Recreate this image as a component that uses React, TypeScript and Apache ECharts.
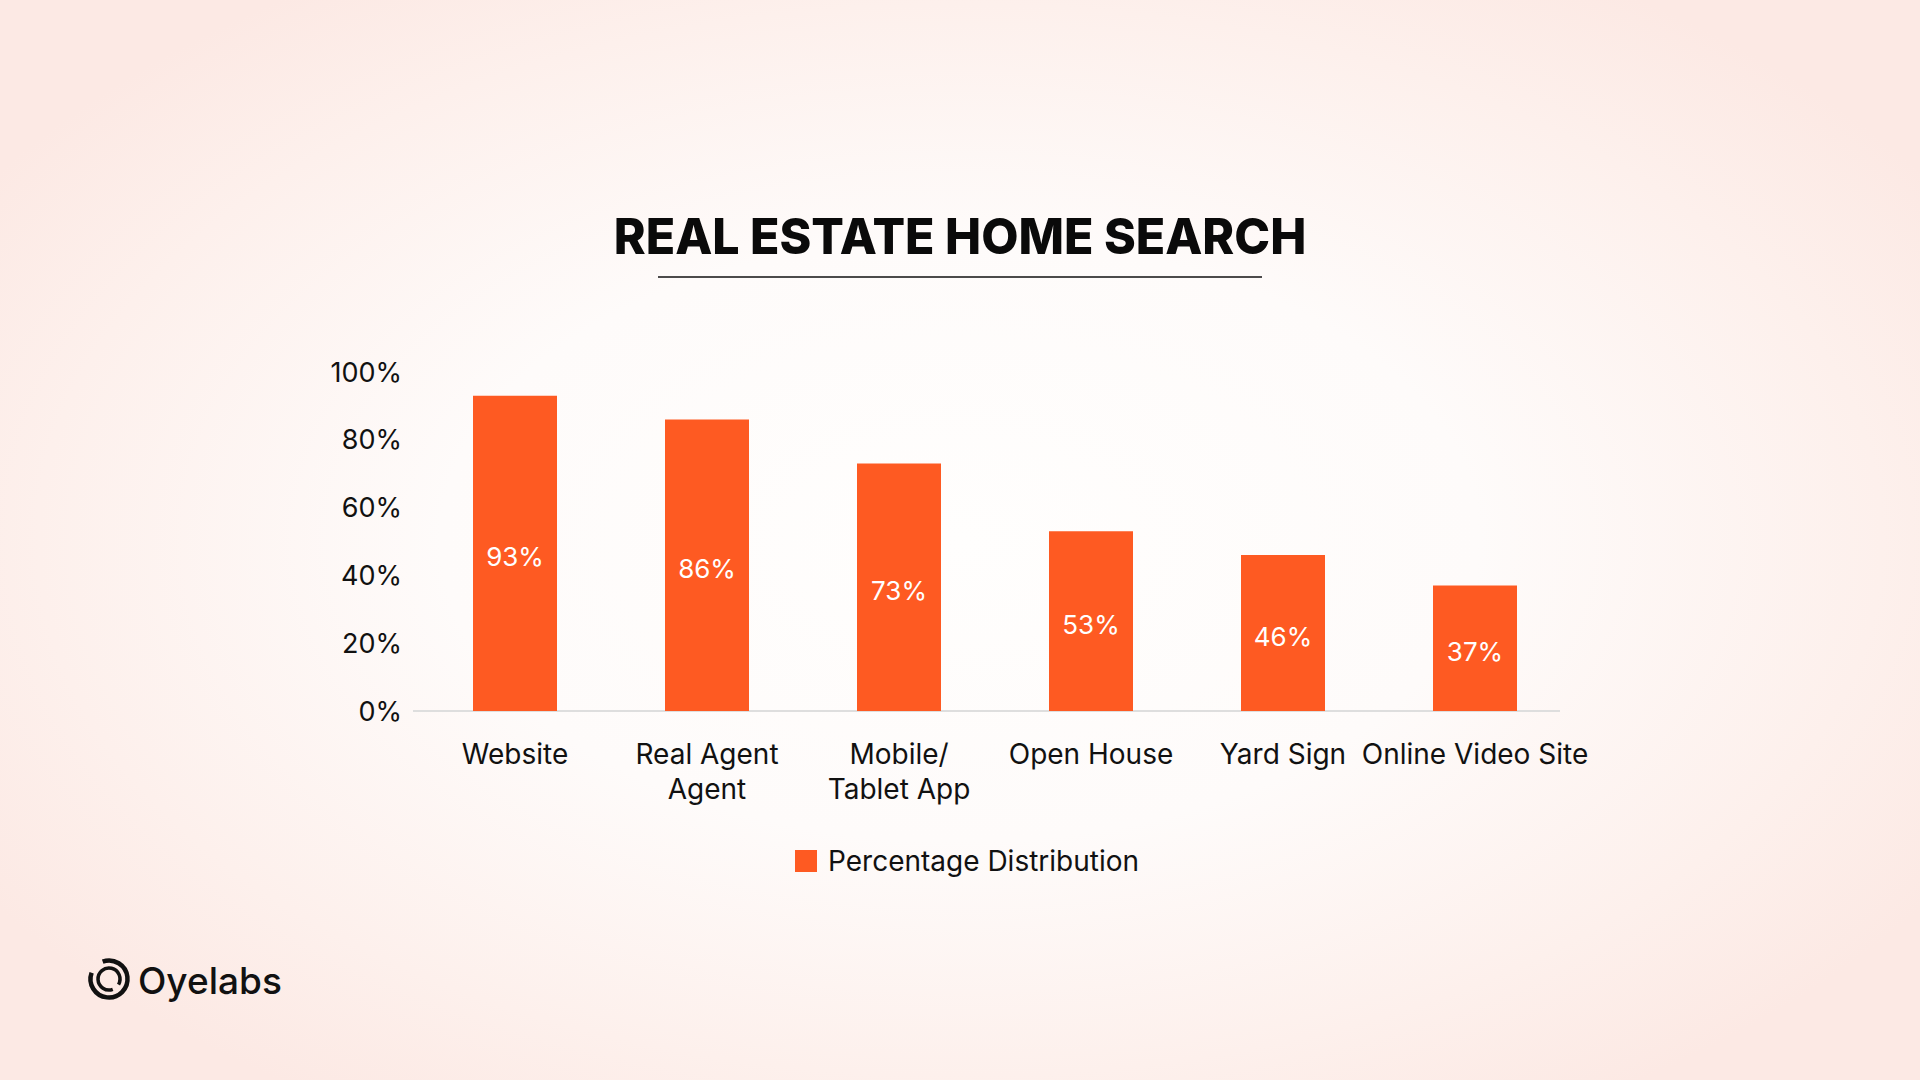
import { useEffect, useRef } from "react";
import * as echarts from "echarts";

const categories = ["Website", "Real Agent\nAgent", "Mobile/\nTablet App", "Open House", "Yard Sign", "Online Video Site"];
const values = [93, 86, 73, 53, 46, 37];
const seriesName = "Percentage Distribution";
const yMin = 0;
const yMax = 100;
const yStep = 20;
const titleText = "REAL ESTATE HOME SEARCH";
const brandText = "Oyelabs";

const FONT = "Inter, 'Noto Sans', 'DejaVu Sans', sans-serif";
const ORANGE = "#FE5A22";
const INK = "#111111";

export default function App() {
  const ref = useRef<HTMLDivElement>(null);
  useEffect(() => {
    document.body.style.margin = "0";
    const chart = echarts.init(ref.current!, null, { renderer: "svg" });
    const d2r = Math.PI / 180;
    chart.setOption({
      animation: false,
      backgroundColor: "transparent",
      textStyle: { fontFamily: FONT },
      grid: { left: 419, width: 1152, top: 372, height: 339, containLabel: false },
      legend: {
        data: [seriesName],
        left: 795,
        top: 847,
        padding: 0,
        icon: "rect",
        itemWidth: 22,
        itemHeight: 22,
        textStyle: { fontSize: 28, color: INK, fontFamily: FONT, padding: [0, 0, 0, 6] },
      },
      xAxis: {
        type: "category",
        data: categories,
        axisLine: { show: false },
        axisTick: { show: false },
        axisLabel: { fontSize: 28, color: INK, fontFamily: FONT, lineHeight: 35, margin: 25, interval: 0 },
      },
      yAxis: {
        type: "value",
        min: yMin,
        max: yMax,
        interval: yStep,
        axisLine: { show: false },
        axisTick: { show: false },
        splitLine: { show: false },
        axisLabel: { fontSize: 27, color: INK, fontFamily: FONT, margin: 17, formatter: "{value}%" },
      },
      series: [
        {
          name: seriesName,
          type: "bar",
          data: values,
          barWidth: 84,
          itemStyle: { color: ORANGE },
          label: {
            show: true,
            position: "inside",
            offset: [0, 3],
            color: "#ffffff",
            fontSize: 26,
            fontFamily: FONT,
            formatter: "{c}%",
          },
        },
      ],
      graphic: [
        {
          type: "line",
          shape: { x1: 413, y1: 711, x2: 1560, y2: 711 },
          style: { stroke: "#dedede", lineWidth: 2 },
          z: -1,
        },
        {
          type: "text",
          x: 960,
          y: 236,
          scaleX: 0.965,
          style: {
            text: titleText,
            x: 0,
            y: 0,
            align: "center",
            verticalAlign: "middle",
            fontSize: 50,
            fontWeight: 800,
            fontFamily: FONT,
            fill: "#0a0a0a",
          },
        },
        {
          type: "line",
          shape: { x1: 658, y1: 277, x2: 1262, y2: 277 },
          style: { stroke: "#111111", lineWidth: 1.5 },
        },
        {
          type: "arc",
          shape: { cx: 109, cy: 979, r: 18.5, startAngle: 250 * d2r, endAngle: 560 * d2r, clockwise: true },
          style: { stroke: "#111111", lineWidth: 4.5, fill: "none" },
        },
        {
          type: "arc",
          shape: { cx: 109, cy: 979, r: 11, startAngle: 70 * d2r, endAngle: 390 * d2r, clockwise: true },
          style: { stroke: "#111111", lineWidth: 3.5, fill: "none" },
        },
        {
          type: "text",
          x: 138,
          y: 980,
          style: {
            text: brandText,
            x: 0,
            y: 0,
            align: "left",
            verticalAlign: "middle",
            fontSize: 37,
            fontWeight: 500,
            fontFamily: FONT,
            fill: "#111111",
          },
        },
      ],
    });
    return () => chart.dispose();
  }, []);
  return (
    <div
      ref={ref}
      style={{
        position: "absolute",
        left: 0,
        top: 0,
        width: 1920,
        height: 1080,
        background: "radial-gradient(ellipse 60% 62% at 50% 50%, #fffefd 0%, #fefbfa 45%, #fdf0ec 80%, #fce9e4 100%)",
      }}
    />
  );
}
